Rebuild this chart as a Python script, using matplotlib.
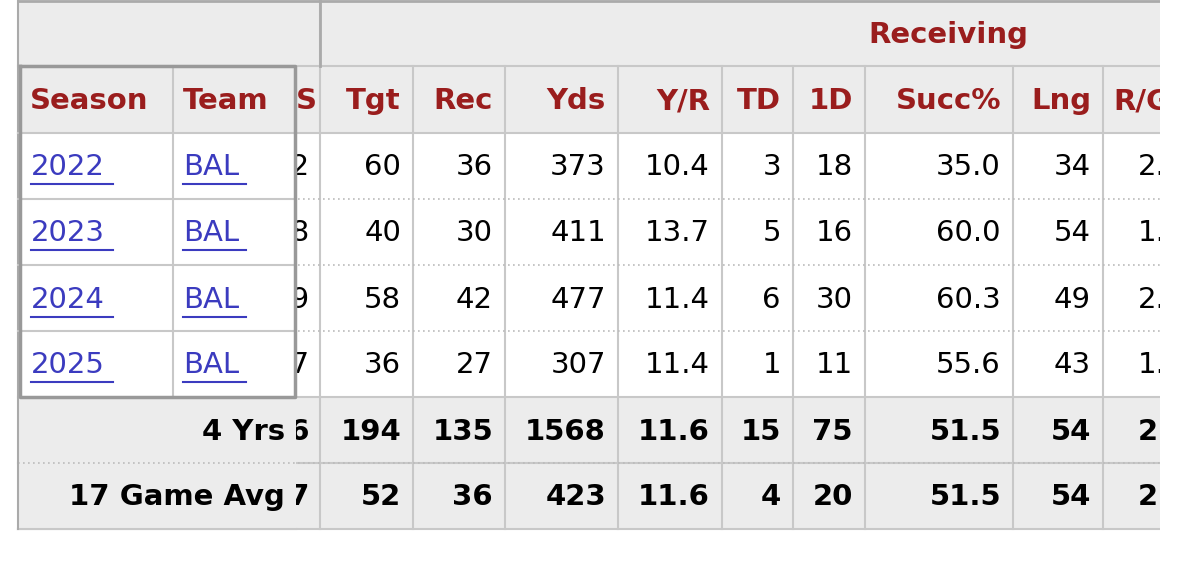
import matplotlib
matplotlib.use("Agg")
import matplotlib.pyplot as plt
from matplotlib.patches import Rectangle

seasons = ["2022", "2023", "2024", "2025"]
teams = ["BAL", "BAL", "BAL", "BAL"]
g_col = ["12", "18", "19", "17"]
tgt = ["60", "40", "58", "36"]
rec = ["36", "30", "42", "27"]
yds = ["373", "411", "477", "307"]
ypr = ["10.4", "13.7", "11.4", "11.4"]
td = ["3", "5", "6", "1"]
fd = ["18", "16", "30", "11"]
succ = ["35.0", "60.0", "60.3", "55.6"]
lng = ["34", "54", "49", "43"]
rg = ["2.9", "1.7", "2.2", "1.6"]
tot_labels = ["4 Yrs", "17 Game Avg"]
tot_g = ["66", "57"]
tot_vals = [["194", "135", "1568", "11.6", "15", "75", "51.5", "54", "2.0"],
            ["52", "36", "423", "11.6", "4", "20", "51.5", "54", "2.0"]]
headers = ["Tgt", "Rec", "Yds", "Y/R", "TD", "1D", "Succ%", "Lng", "R/G"]

W, H = 1179, 576
fig = plt.figure(figsize=(W/100, H/100), dpi=100)
ax = fig.add_axes([0, 0, 1, 1])
ax.set_xlim(0, W); ax.set_ylim(H, 0); ax.axis("off")

RED = "#9a1d1d"; BLUE = "#3b3bbf"; GRAY = "#ececec"; LINE = "#c8c8c8"
FS = 21
col_edges = [320, 413, 505, 618, 722, 793, 865, 1013, 1103, 1190]

def box(x0, y0, x1, y1, fc, z=0):
    ax.add_patch(Rectangle((x0, y0), x1-x0, y1-y0, fc=fc, ec="none", zorder=z))

def txt(x, y, s, ha="right", color="black", bold=False, z=3):
    return ax.text(x, y, s, ha=ha, va="center", fontsize=FS, color=color, zorder=z,
                   fontweight="bold" if bold else "normal", family="DejaVu Sans")

box(18, 0, 1160, 133, GRAY)
box(18, 397, 1160, 529, GRAY)
box(18, 133, 1160, 397, "white")

# grid lines of scrolling part
for x in col_edges[:-1]:
    ax.plot([x, x], [66 if x != 320 else 0, 529], color=LINE, lw=1.5, zorder=1)
for y in [66, 133, 397, 463, 529]:
    ax.plot([18, 1160], [y, y], color=LINE, lw=1.5, zorder=1)
for y in [199, 265, 331, 463]:
    ax.plot([18, 1160], [y, y], color="#bbbbbb", lw=1.2, ls=(0, (1, 2)), zorder=1)
ax.plot([320, 320], [0, 66], color="#aaaaaa", lw=2, zorder=1)
ax.plot([18, 1160], [1, 1], color="#aaaaaa", lw=2, zorder=1)

# scrolling texts (zorder 3)
txt(318, 101, "GS", color=RED, bold=True)
for i, h in enumerate(headers):
    if i < 8:
        txt(col_edges[i+1] - 12, 101, h, color=RED, bold=True)
    else:
        txt(col_edges[i] + 10, 101, h, ha="left", color=RED, bold=True)
txt(948, 35, "Receiving", ha="center", color=RED, bold=True)

ys = [167, 233, 300, 365]
for r in range(4):
    y = ys[r]
    txt(310, y, g_col[r])
    vals = [tgt[r], rec[r], yds[r], ypr[r], td[r], fd[r], succ[r], lng[r]]
    for i, v in enumerate(vals):
        txt(col_edges[i+1] - 12, y, v)
    txt(1138, y, rg[r], ha="left")
for k, y in enumerate([432, 497]):
    txt(310, y, tot_g[k], bold=True)
    for i, v in enumerate(tot_vals[k][:8]):
        txt(col_edges[i+1] - 12, y, v, bold=True)
    txt(1138, y, tot_vals[k][8], ha="left", bold=True)

# frozen left part (covers, zorder 5+)
box(1160, 0, W, H, "white", z=5)
box(18, 66, 296, 133, GRAY, z=5)
box(18, 133, 296, 397, "white", z=5)
box(18, 397, 296, 529, GRAY, z=5)
ax.plot([18, 296], [463, 463], color="#bbbbbb", lw=1.2, ls=(0, (1, 2)), zorder=6)
ax.plot([18, 296], [529, 529], color=LINE, lw=1.5, zorder=6)
ax.plot([18, 18], [0, 529], color="#aaaaaa", lw=1.5, zorder=6)
ax.plot([173, 173], [66, 397], color=LINE, lw=1.5, zorder=6)
for y in [133]:
    ax.plot([18, 296], [y, y], color=LINE, lw=1.5, zorder=6)
for y in [199, 265, 331]:
    ax.plot([18, 296], [y, y], color=LINE, lw=1.5, zorder=6)
ax.plot([20, 295, 295, 20, 20], [66, 66, 397, 397, 66], color="#999999", lw=2.5, zorder=7)

txt(30, 101, "Season", ha="left", color=RED, bold=True, z=8)
txt(183, 101, "Team", ha="left", color=RED, bold=True, z=8)
for r in range(4):
    y = ys[r]
    txt(31, y, seasons[r], ha="left", color=BLUE, z=8)
    ax.plot([31, 113], [y+17, y+17], color=BLUE, lw=1.5, zorder=8)
    txt(183, y, teams[r], ha="left", color=BLUE, z=8)
    ax.plot([183, 246], [y+17, y+17], color=BLUE, lw=1.5, zorder=8)
for k, y in enumerate([432, 497]):
    txt(285, y, tot_labels[k], bold=True, z=8)

fig.savefig("out.png", dpi=100, facecolor="white")
